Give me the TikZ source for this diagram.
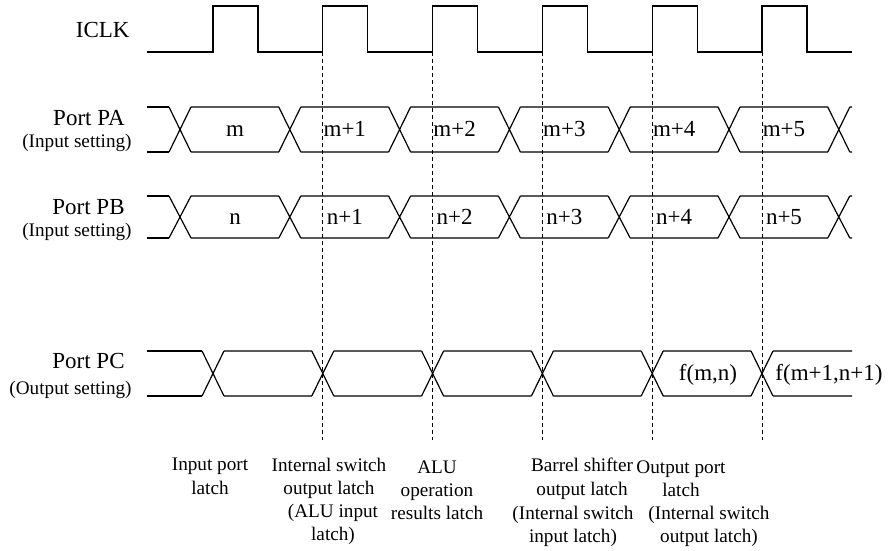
\documentclass[tikz,border=0pt]{standalone}
\usepackage{fontspec}
\setmainfont{Liberation Serif}
\newcommand{\busrow}[4]{%
  \draw[wave] (147,#1) -- (#3-11,#1) (147,#2) -- (#3-11,#2);
  \foreach \k in {0,...,#4} {
    \pgfmathsetmacro\cx{#3+109.8*\k}
    \pgfmathsetmacro\nx{min(\cx+98.8,852)}
    \draw[wave] (\cx-11,#1) -- (\cx+11,#2) (\cx-11,#2) -- (\cx+11,#1)
      (\cx+11,#1) -- (\nx,#1) (\cx+11,#2) -- (\nx,#2);
  }}
\begin{document}
\begin{tikzpicture}[x=.5pt, y=-.5pt,
  wave/.style={line width=.6pt},
  guide/.style={line width=.45pt, dash pattern=on 2pt off 1.5pt},
  big/.style={font=\fontsize{11.5}{13}\selectfont, inner sep=0},
  small/.style={font=\fontsize{9.6}{11.6}\selectfont, inner sep=0},
  note/.style={small, align=center, anchor=north}]
  \useasboundingbox (0,0) rectangle (891,551);
  \draw[wave] (147,52) \foreach \t in {213,322.8,432.6,542.4,652.2,762}
    { -- (\t,52) -- (\t,6) -- (\t+45,6) -- (\t+45,52) } -- (852,52);
  \busrow{107}{152}{180}{6}
  \busrow{196}{238}{180}{6}
  \busrow{351}{396}{213}{5}
  \foreach \k in {1,...,5} {
    \coordinate (top\k) at (213+109.8*\k,52);
    \coordinate (bot\k) at (213+109.8*\k,440);
    \draw[guide] (top\k) -- (bot\k);
  }
  \node[big, anchor=base east] (iclk) at (130,38) {ICLK};
  \node[big, anchor=base east] (pa) at (125,126) {Port PA};
  \node[small, anchor=base east] (pas) at (132,148) {(Input setting)};
  \node[big, anchor=base east] (pb) at (125,215) {Port PB};
  \node[small, anchor=base east] (pbs) at (132,237) {(Input setting)};
  \node[big, anchor=base east] (pc) at (125,369) {Port PC};
  \node[small, anchor=base east] (pcs) at (132,394) {(Output setting)};
  \foreach \v [count=\k from 0] in {m,m+1,m+2,m+3,m+4,m+5}
    \node[big, anchor=base] (pav\k) at (235+109.8*\k,137) {\v};
  \foreach \v [count=\k from 0] in {n,n+1,n+2,n+3,n+4,n+5}
    \node[big, anchor=base] (pbv\k) at (235+109.8*\k,225) {\v};
  \node[big, anchor=base] (pcv1) at (708,381) {f(m,n)};
  \node[big, anchor=base] (pcv2) at (829,381) {f(m+1,n+1)};
  \node[note] (inport) at (210,458) {Input port\\latch};
  \node[note] (swout) at (329,458) {Internal switch\\output latch};
  \node[note] (aluin) at (333,504) {(ALU input\\latch)};
  \node[note] (alures) at (437,460) {ALU\\operation\\results latch};
  \node[note] (barrel) at (582,458) {Barrel shifter\\output latch};
  \node[note] (swin) at (573,506) {(Internal switch\\input latch)};
  \node[note] (outport) at (681,460) {Output port\\latch};
  \node[note] (swout2) at (709,506) {(Internal switch\\output latch)};
\end{tikzpicture}
\end{document}
